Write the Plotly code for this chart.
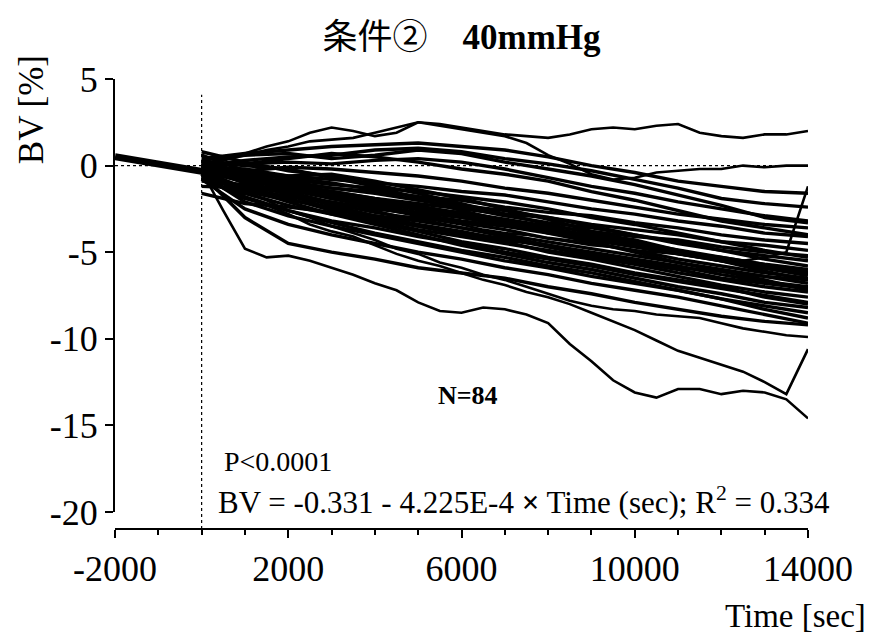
import plotly.graph_objects as go

time_coarse = [0, 1000, 2000, 3000, 4000, 5000, 6000, 7000, 8000, 9000, 10000, 11000, 12000, 13000, 14000]
time_fine = [0, 500, 1000, 1500, 2000, 2500, 3000, 3500, 4000, 4500, 5000, 5500, 6000, 6500, 7000,
             7500, 8000, 8500, 9000, 9500, 10000, 10500, 11000, 11500, 12000, 12500, 13000, 13500, 14000]

# subjects read at 1000 s steps (BV %)
subj_01 = [0.4, 0.7, 0.9, 1.1, 1.2, 1.3, 1.1, 0.9, 0.5, 0.0, -0.4, -0.9, -1.2, -1.5, -1.6]
subj_02 = [0.0, 0.3, 0.5, 0.6, 0.9, 1.0, 0.8, 0.4, 0.1, -0.3, -0.8, -1.3, -1.9, -2.2, -2.4]
subj_03 = [-0.1, 0.1, 0.2, 0.1, 0.3, 0.4, 0.2, -0.2, -0.7, -1.2, -1.6, -2.1, -2.5, -2.9, -3.2]
subj_04 = [-0.6, -0.3, -0.1, -0.2, -0.4, -0.6, -0.9, -1.3, -1.6, -2.0, -2.4, -2.8, -3.1, -3.4, -3.6]
subj_05 = [0.1, -0.4, -0.6, -0.8, -1.0, -1.2, -1.5, -1.7, -2.1, -2.5, -2.8, -3.2, -3.5, -3.9, -4.1]
subj_06 = [-0.3, -0.7, -0.9, -1.3, -1.5, -1.8, -2.0, -2.4, -2.7, -2.9, -3.3, -3.6, -4.0, -4.3, -4.5]
subj_07 = [0.0, -0.9, -1.2, -1.5, -1.9, -2.2, -2.5, -2.8, -3.0, -3.4, -3.7, -4.0, -4.4, -4.6, -4.9]
subj_08 = [-0.9, -1.1, -1.4, -1.9, -2.2, -2.5, -2.7, -3.1, -3.5, -3.8, -4.1, -4.3, -4.7, -5.0, -5.2]
subj_09 = [-0.2, -0.5, -1.0, -1.3, -1.6, -2.0, -2.4, -2.9, -3.3, -3.6, -4.0, -4.5, -4.9, -5.2, -5.5]
subj_10 = [0.6, -0.3, -0.7, -1.0, -1.4, -1.8, -2.3, -2.6, -3.0, -3.5, -4.0, -4.4, -4.9, -5.4, -5.8]
subj_11 = [-1.2, -1.3, -1.8, -2.1, -2.5, -2.8, -3.2, -3.5, -3.9, -4.2, -4.6, -5.0, -5.3, -5.7, -6.0]
subj_12 = [-0.3, -0.8, -1.4, -1.8, -2.3, -2.7, -3.0, -3.4, -3.8, -4.3, -4.7, -5.1, -5.5, -5.9, -6.3]
subj_13 = [0.0, -0.6, -1.2, -1.9, -2.4, -2.9, -3.3, -3.7, -4.2, -4.5, -4.9, -5.4, -5.8, -6.2, -6.5]
subj_14 = [-0.6, -1.5, -2.0, -2.4, -2.9, -3.2, -3.6, -4.0, -4.4, -4.8, -5.2, -5.6, -6.0, -6.4, -6.8]
subj_15 = [-0.2, -1.0, -1.6, -2.2, -2.7, -3.1, -3.6, -4.1, -4.6, -5.0, -5.4, -5.8, -6.3, -6.7, -7.0]
subj_16 = [-0.4, -1.6, -2.3, -2.8, -3.2, -3.7, -4.1, -4.5, -4.9, -5.3, -5.7, -6.2, -6.6, -7.0, -7.3]
subj_17 = [-0.1, -0.9, -1.7, -2.5, -3.0, -3.5, -4.0, -4.4, -5.0, -5.4, -5.9, -6.4, -6.9, -7.3, -7.6]
subj_18 = [-0.7, -1.9, -2.6, -3.2, -3.6, -4.1, -4.5, -5.0, -5.4, -5.8, -6.3, -6.7, -7.1, -7.5, -7.9]
subj_19 = [-0.3, -1.3, -2.1, -2.8, -3.4, -4.0, -4.6, -5.1, -5.6, -6.0, -6.5, -7.0, -7.4, -7.9, -8.2]
subj_20 = [-0.5, -2.1, -2.9, -3.5, -4.0, -4.5, -5.0, -5.5, -5.9, -6.4, -6.8, -7.2, -7.7, -8.1, -8.5]
subj_21 = [-0.2, -1.8, -2.6, -3.3, -3.9, -4.4, -4.9, -5.3, -5.8, -6.2, -6.7, -7.2, -7.7, -8.3, -8.8]
subj_22 = [-0.8, -2.5, -3.4, -4.0, -4.5, -5.0, -5.4, -5.9, -6.3, -6.8, -7.2, -7.6, -8.1, -8.6, -9.1]
subj_23 = [-0.5, -3.0, -4.5, -5.0, -5.4, -5.9, -6.2, -6.5, -7.0, -7.4, -7.9, -8.3, -8.7, -9.0, -9.2]
subj_24 = [0.3, 0.6, 0.7, 0.4, 0.6, 0.9, 0.7, 0.2, -0.2, -0.6, -1.1, -1.7, -2.3, -3.0, -3.3]
subj_25 = [0.2, 0.1, 0.4, 0.7, 0.5, 0.2, -0.2, -0.5, -0.9, -1.5, -2.0, -2.6, -3.2, -3.6, -4.0]
subj_26 = [-0.1, -0.2, -0.6, -0.5, -0.9, -1.4, -1.9, -2.5, -3.1, -3.8, -4.4, -5.0, -5.5, -6.1, -6.6]
subj_27 = [-0.6, -1.2, -1.6, -2.3, -2.9, -3.4, -3.8, -4.3, -4.6, -5.1, -5.6, -6.0, -6.5, -6.8, -7.1]
subj_28 = [0.0, -0.4, -0.8, -1.1, -1.3, -1.5, -1.8, -2.1, -2.5, -3.0, -3.4, -3.9, -4.4, -4.9, -5.3]
subj_29 = [-1.6, -2.2, -2.4, -2.7, -3.1, -3.5, -3.9, -4.2, -4.7, -5.2, -5.5, -5.9, -6.1, -6.4, -6.6]
subj_30 = [0.8, 0.2, -0.3, -0.6, -1.1, -1.6, -2.2, -2.8, -3.4, -3.9, -4.3, -4.9, -5.4, -5.9, -6.2]
subj_31 = [-0.4, -1.4, -1.9, -2.6, -3.3, -3.8, -4.4, -4.8, -5.3, -5.7, -6.2, -6.6, -7.0, -7.6, -8.0]
subj_32 = [0.2, 0.0, -0.2, -0.7, -1.2, -1.9, -2.6, -3.2, -3.9, -4.4, -5.0, -5.6, -6.1, -6.6, -7.2]

# subjects read at 500 s steps (the ones standing out of the band)
subj_top = [0.0, 0.4, 0.7, 1.1, 1.4, 1.9, 2.2, 2.0, 1.7, 1.9, 2.5, 2.4, 2.2, 2.0, 1.8,
            1.7, 1.6, 1.8, 2.1, 2.2, 2.1, 2.3, 2.4, 1.9, 1.7, 1.6, 1.8, 1.8, 2.0]
subj_zero = [0.1, 0.3, 0.6, 0.9, 1.1, 1.4, 1.5, 1.6, 1.9, 2.2, 2.5, 2.3, 2.1, 1.9, 1.7,
             1.3, 0.6, 0.1, -0.5, -0.8, -0.7, -0.4, -0.3, -0.2, -0.2, 0.0, -0.1, 0.0, 0.0]
subj_rise = [-0.2, -0.6, -1.0, -1.3, -1.5, -1.8, -2.1, -2.3, -2.6, -2.9, -3.0, -3.2, -3.4, -3.7, -3.9,
             -4.0, -4.2, -4.4, -4.6, -4.7, -4.9, -5.0, -5.1, -5.3, -5.4, -5.5, -5.3, -5.0, -1.2]
subj_low_a = [-0.3, -2.6, -4.8, -5.3, -5.2, -5.5, -5.9, -6.3, -6.8, -7.2, -7.9, -8.4, -8.5, -8.2, -8.3,
              -8.6, -9.1, -10.3, -11.3, -12.4, -13.1, -13.4, -12.9, -12.9, -13.2, -13.0, -13.1, -13.5, -14.6]
subj_low_b = [-0.5, -1.2, -1.8, -2.3, -2.8, -3.4, -3.8, -4.1, -4.6, -5.1, -5.5, -5.8, -6.2, -6.6, -6.9,
              -7.3, -7.6, -8.0, -8.5, -9.0, -9.5, -10.1, -10.7, -11.1, -11.5, -11.9, -12.5, -13.2, -10.6]
subj_low_c = [-0.2, -0.9, -1.6, -2.0, -2.6, -3.0, -3.5, -3.9, -4.3, -4.8, -5.1, -5.6, -5.9, -6.3, -6.6,
              -7.0, -7.4, -7.8, -8.1, -8.3, -8.4, -8.6, -8.7, -8.8, -9.1, -9.4, -9.6, -9.8, -9.9]

# regression: BV = -0.331 - 4.225E-4 * Time
fit_time = [-2000, 14000]
fit_bv = [0.514, -6.246]

# axis ticks
x_tick_vals = [-2000, 2000, 6000, 10000, 14000]
x_tick_text = ['-2000', '2000', '6000', '10000', '14000']
x_minor_vals = [-1000, 0, 1000, 3000, 4000, 5000, 7000, 8000, 9000, 11000, 12000, 13000]
y_tick_vals = [5, 0, -5, -10, -15, -20]
y_tick_text = ['5', '0', '-5', '-10', '-15', '-20']

coarse_subjects = [subj_01, subj_02, subj_03, subj_04, subj_05, subj_06, subj_07, subj_08, subj_09, subj_10,
                   subj_11, subj_12, subj_13, subj_14, subj_15, subj_16, subj_17, subj_18, subj_19, subj_20,
                   subj_21, subj_22, subj_23, subj_24, subj_25, subj_26, subj_27, subj_28, subj_29, subj_30,
                   subj_31, subj_32]
fine_subjects = [subj_top, subj_zero, subj_rise, subj_low_a, subj_low_b, subj_low_c]

serif = "Liberation Serif, Times New Roman, Noto Sans CJK JP, serif"

fig = go.Figure()

for bv in coarse_subjects:
    fig.add_trace(go.Scatter(x=time_coarse, y=bv, mode='lines',
                             line=dict(color='black', width=3.4)))
for bv in fine_subjects:
    fig.add_trace(go.Scatter(x=time_fine, y=bv, mode='lines',
                             line=dict(color='black', width=2.6)))

fig.add_trace(go.Scatter(x=fit_time, y=fit_bv, mode='lines',
                         line=dict(color='black', width=7)))

# dotted reference lines
fig.add_shape(type='line', xref='x', yref='y', x0=-2000, x1=14000, y0=0, y1=0,
              line=dict(color='black', width=1.2, dash='dot'), layer='below')
fig.add_shape(type='line', xref='x', yref='paper', x0=0, x1=0, y0=0, y1=0.965,
              line=dict(color='black', width=1.2, dash='dot'), layer='below')

fig.add_annotation(text='<b>N=84</b>', x=6150, y=-13.3, xref='x', yref='y',
                   xanchor='center', yanchor='middle',
                   showarrow=False, font=dict(family=serif, size=26, color='black'))
fig.add_annotation(text='P&lt;0.0001', x=470, y=-17.1, xref='x', yref='y',
                   xanchor='left', yanchor='middle',
                   showarrow=False, font=dict(family=serif, size=28, color='black'))
fig.add_annotation(text='BV = -0.331 - 4.225E-4 <b>×</b> Time (sec); R<sup>2</sup> = 0.334',
                   x=330, y=-19.35, xref='x', yref='y', xanchor='left', yanchor='middle',
                   showarrow=False, font=dict(family=serif, size=31, color='black'))

# axis titles
fig.add_annotation(text='BV [%]', x=-0.121, y=0.931, xref='paper', yref='paper', textangle=-90,
                   xanchor='center', yanchor='middle',
                   showarrow=False, font=dict(family=serif, size=35, color='black'))
fig.add_annotation(text='Time [sec]', x=1.0866, y=-0.193, xref='paper', yref='paper',
                   xanchor='right', yanchor='middle',
                   showarrow=False, font=dict(family=serif, size=33, color='black'))

fig.update_layout(
    width=869, height=634,
    margin=dict(l=107, r=69, t=71, b=113),
    paper_bgcolor='white', plot_bgcolor='white',
    showlegend=False,
    title=dict(text='条件②　<b>40mmHg</b>', x=0.5, xref='paper', y=0.954, yref='container',
               xanchor='center', yanchor='middle', font=dict(family=serif, size=35, color='black')),
    xaxis=dict(range=[-2000, 14000], anchor='free', position=0,
               tickmode='array', tickvals=x_tick_vals, ticktext=x_tick_text,
               ticks='outside', ticklen=8, tickwidth=2,
               minor=dict(tickmode='array', tickvals=x_minor_vals, ticks='outside', ticklen=5,
                          tickwidth=2, tickcolor='black'),
               showline=True, linewidth=2, linecolor='black', tickcolor='black',
               showgrid=False, zeroline=False,
               tickfont=dict(family=serif, size=36, color='black')),
    yaxis=dict(range=[-20, 5], domain=[0.038, 1],
               tickmode='array', tickvals=y_tick_vals, ticktext=y_tick_text,
               ticks='outside', ticklen=8, tickwidth=2,
               showline=True, linewidth=2, linecolor='black', tickcolor='black',
               showgrid=False, zeroline=False,
               tickfont=dict(family=serif, size=36, color='black')),
)

fig.write_html("out.html")
